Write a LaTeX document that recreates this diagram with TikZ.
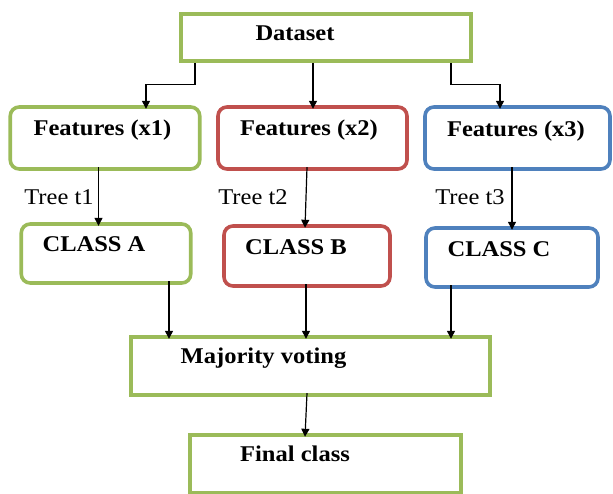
\documentclass[tikz,border=0pt]{standalone}
\usepackage{fontspec}
\setmainfont{Liberation Serif}
\usetikzlibrary{arrows.meta}
\definecolor{bgreen}{RGB}{155,187,89}
\definecolor{bred}{RGB}{192,80,77}
\definecolor{bblue}{RGB}{79,129,189}
\newcommand{\wtxt}[1]{\scalebox{1.09}[1]{#1}}
\tikzset{
  box/.style={draw=#1, line width=3.6pt, minimum width=10pt, inner sep=0pt, outer sep=0pt},
  rbox/.style={box=#1, rounded corners=9pt},
  lbl/.style={font=\fontsize{22.5pt}{25pt}\selectfont\bfseries, inner sep=0pt, anchor=center},
  tlbl/.style={font=\fontsize{22.5pt}{25pt}\selectfont, inner sep=0pt, anchor=center},
  arr/.style={draw=black, line width=1.2pt, -{Triangle[length=8pt,width=8pt]}}
}
\begin{document}
\begin{tikzpicture}[x=1pt,y=-1pt]
\useasboundingbox (0,0) rectangle (613,493);
% boxes
\node[box=bgreen, minimum width=290pt, minimum height=47pt] (ds) at (326,37.5) {};
\node[rbox=bgreen, minimum width=189.5pt, minimum height=62pt] (f1) at (105,138) {};
\node[rbox=bred, minimum width=189pt, minimum height=62pt] (f2) at (312.5,138) {};
\node[rbox=bblue, minimum width=185pt, minimum height=62pt] (f3) at (517.5,138) {};
\node[rbox=bgreen, minimum width=169.5pt, minimum height=59pt] (ca) at (106,253.5) {};
\node[rbox=bred, minimum width=166pt, minimum height=60pt] (cb) at (307,256) {};
\node[rbox=bblue, minimum width=172pt, minimum height=59pt] (cc) at (512,257.5) {};
\node[box=bgreen, minimum width=359pt, minimum height=58pt] (mv) at (310.5,366) {};
\node[box=bgreen, minimum width=271pt, minimum height=58pt] (fc) at (325.5,464) {};
% texts
\node[lbl] (tds) at (295,33) {\wtxt{Dataset}};
\node[lbl] (tf1) at (102.5,130) {\wtxt{Features (x1)}};
\node[lbl] (tf2) at (309,130) {\wtxt{Features (x2)}};
\node[lbl] (tf3) at (516,131.5) {\wtxt{Features (x3)}};
\node[tlbl] (t1) at (59,197) {\wtxt{Tree t1}};
\node[tlbl] (t2) at (253,197) {\wtxt{Tree t2}};
\node[tlbl] (t3) at (470,197) {\wtxt{Tree t3}};
\node[lbl] (tca) at (94,244) {\wtxt{CLASS A}};
\node[lbl] (tcb) at (296,247) {\wtxt{CLASS B}};
\node[lbl] (tcc) at (499,249) {\wtxt{CLASS C}};
\node[lbl] (tmv) at (263.5,358) {\wtxt{Majority voting}};
\node[lbl] (tfc) at (295,454) {\wtxt{Final class}};
% connectors
\coordinate (d1) at ([xshift=14pt]ds.south west);
\coordinate (d2) at ([xshift=-13pt]ds.south);
\coordinate (d3) at ([xshift=-20pt]ds.south east);
\draw[arr] ([yshift=-1.8pt]d1) -- ++(0,22) -| ([yshift=-1.8pt]f1.north -| 146,0);
\draw[arr] ([yshift=-1.8pt]d2) -- ([yshift=-1.8pt]f2.north -| d2);
\draw[arr] ([yshift=-1.8pt]d3) -- ++(0,22) -| ([yshift=-1.8pt]f3.north -| 500,0);
\draw[arr] ([yshift=1.8pt]f1.south -| 98.5,0) -- ([yshift=-1.8pt]ca.north -| 98.5,0);
\draw[arr] ([yshift=1.8pt]f2.south -| 307,0) -- ([yshift=-1.8pt]cb.north -| 305,0);
\draw[arr] ([yshift=1.8pt]f3.south -| 512,0) -- ([yshift=-1.8pt]cc.north -| 512,0);
\draw[arr] ([yshift=1.8pt]ca.south -| 169,0) -- ([yshift=-1.8pt]mv.north -| 169,0);
\draw[arr] ([yshift=1.8pt]cb.south -| 306,0) -- ([yshift=-1.8pt]mv.north -| 306,0);
\draw[arr] ([yshift=1.8pt]cc.south -| 451,0) -- ([yshift=-1.8pt]mv.north -| 451,0);
\draw[arr] ([yshift=1.8pt]mv.south -| 307,0) -- ([yshift=-1.8pt]fc.north -| 305,0);
\end{tikzpicture}
\end{document}
